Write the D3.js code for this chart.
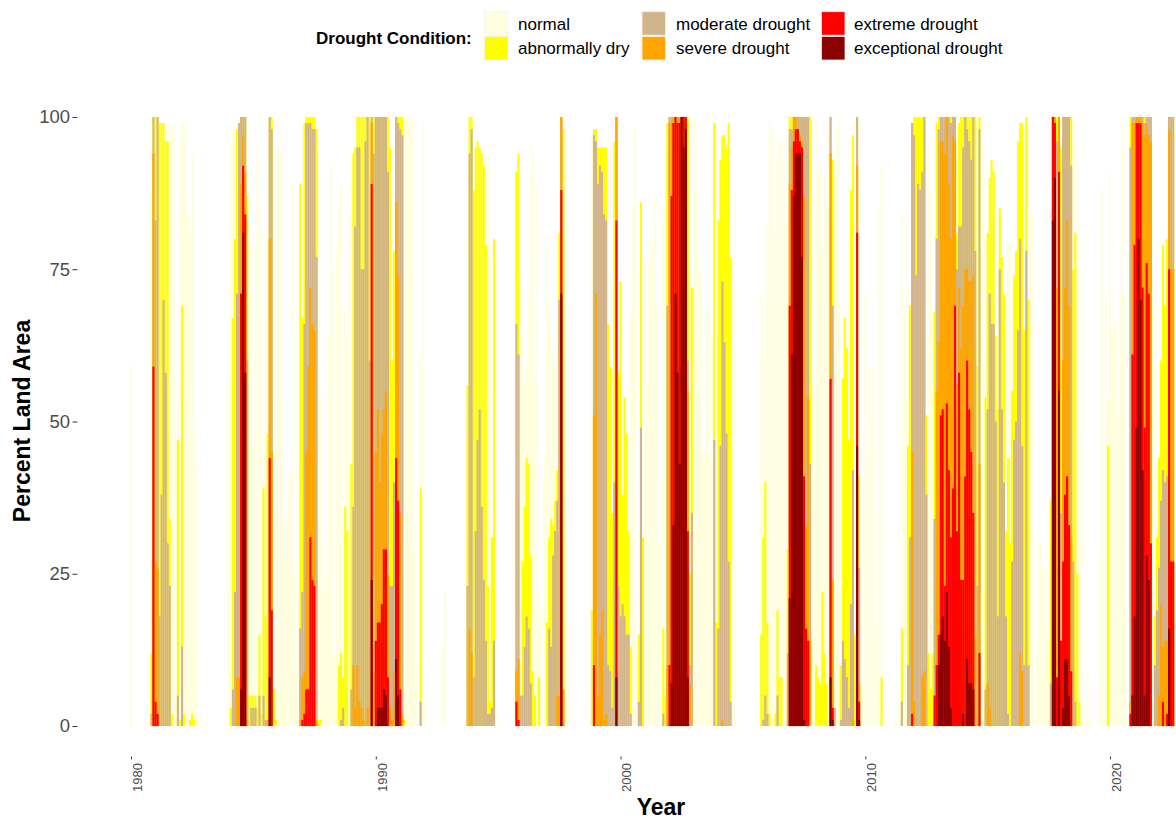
<!DOCTYPE html>
<html>
<head>
<meta charset="utf-8">
<script src="https://cdn.jsdelivr.net/npm/d3@7"></script>
<style>
  body { margin: 0; background: #fff; }
  svg { display: block; font-family: "Liberation Sans", Arial, Helvetica, sans-serif; }
</style>
</head>
<body>
<svg id="chart" width="1176" height="818"></svg>
<script>
// monthly percent of land area, one row per year (Jan..Dec), 1980 to mid 2022
var normal = [
  59,0,0,0,0,0,0,0,0,0,88,0,
  0,0,0,0,0,0,0,99,99,97,5,53,
  96,99,99,86,84,81,94,49,42,1,2,1,
  0,0,0,0,0,0,0,0,0,0,0,0,
  57,96,98,98,0,0,0,0,0,0,60,79,
  46,79,95,85,67,40,82,50,0,0,0,94,
  95,95,54,28,34,40,42,89,25,10,20,0,
  0,0,0,0,0,0,0,0,77,54,30,22,
  25,64,92,75,11,79,85,89,0,68,64,84,
  0,0,0,0,0,0,0,0,0,0,0,0,
  0,0,0,0,0,0,0,0,0,0,0,0,
  0,0,99,100,100,100,100,29,10,0,61,99,
  5,0,0,0,0,0,0,0,0,13,22,0,
  0,0,0,0,0,0,0,0,1,0,0,0,
  0,0,0,0,0,0,0,94,78,0,0,2,
  0,0,0,0,0,0,0,0,38,20,0,73,
  64,56,59,71,91,95,57,89,21,19,0,44,
  79,68,66,62,60,0,0,0,0,31,17,0,
  0,0,0,0,0,0,0,0,0,0,97,0,
  0,0,0,0,0,0,0,0,0,0,0,0,
  0,0,0,0,0,68,85,98,12,0,0,0,
  77,56,76,80,79,87,69,30,40,84,95,0,
  0,0,0,0,0,0,0,0,0,0,75,72,
  100,88,78,74,45,45,68,68,45,64,0,0,
  0,0,0,0,0,0,0,2,88,0,0,0,
  0,0,0,0,0,0,0,0,0,71,69,60,
  82,99,98,98,81,93,96,96,93,82,71,0,
  0,0,0,0,0,0,0,0,0,0,57,56,
  100,91,92,78,91,85,97,0,0,91,98,100,
  0,0,0,0,0,0,0,0,0,0,7,7,
  71,44,59,50,59,17,34,85,92,3,0,0,
  0,0,0,1,0,3,84,68,54,72,0,0,
  0,0,0,0,0,0,0,95,88,68,0,0,
  0,0,0,0,0,0,0,0,0,0,0,0,
  0,0,0,0,0,0,0,0,0,9,95,0,
  0,0,0,0,0,0,0,0,0,0,79,79,
  0,0,0,0,0,0,0,0,0,85,84,0,
  12,31,30,26,26,15,14,0,0,0,0,0,
  0,0,0,0,0,0,0,0,95,75,48,0,
  2,8,1,0,0,0,0,28,88,1,70,54,
  91,65,67,66,51,71,99,71,0,1,0,0,
  0,0,0,0,0,0,0,0,0,73,69,0,
  0,0,0,0,0,0,0,0
];

var abnormallyDry = [
  0,0,0,0,0,0,0,0,0,0,12,100,
  100,100,99,99,99,96,96,34,2,0,0,47,
  1,69,2,0,0,1,2,1,0,0,0,0,
  0,0,0,0,0,0,0,0,0,0,0,0,
  0,3,67,80,98,99,100,100,100,87,5,5,
  5,5,3,15,2,39,18,48,100,100,6,1,
  0,0,0,0,0,0,0,0,0,0,0,89,
  67,99,100,100,100,100,100,98,1,1,0,0,
  0,0,0,0,0,0,10,12,8,36,32,0,
  43,94,95,100,100,100,100,100,100,100,100,100,
  100,100,100,100,100,100,100,95,60,78,100,100,
  100,100,1,0,0,0,0,0,0,0,39,0,
  0,0,0,0,0,0,0,0,0,0,0,0,
  0,0,0,0,0,0,0,0,0,56,100,100,
  88,95,96,95,94,92,79,23,4,31,80,0,
  0,0,0,0,0,0,0,0,0,91,94,5,
  27,36,44,43,28,9,5,0,8,0,0,0,
  17,31,34,33,37,42,81,100,98,0,0,0,
  0,0,0,0,0,0,0,0,0,0,19,98,
  98,95,95,95,95,95,66,59,35,96,100,58,
  73,38,54,48,32,13,0,0,0,15,86,31,
  0,0,0,0,0,0,0,0,0,16,5,99,
  100,100,100,100,100,100,100,100,100,100,25,72,
  0,0,0,0,0,0,0,0,0,0,99,17,
  83,93,97,97,95,99,77,0,0,0,0,0,
  0,0,0,0,0,0,0,0,0,15,31,40,
  17,2,0,0,2,19,8,8,0,0,29,100,
  100,100,100,100,100,100,100,100,100,100,0,0,
  10,8,7,22,12,7,0,100,93,3,0,0,
  10,57,67,62,47,88,97,15,100,41,0,0,
  0,0,0,0,0,0,0,0,8,0,0,0,
  0,0,0,0,0,0,16,0,0,46,69,99,
  100,100,100,100,100,100,51,12,6,12,68,99,
  100,100,100,100,100,100,100,100,100,81,99,100,
  100,100,100,100,100,100,100,59,100,0,0,54,
  81,90,93,91,64,52,85,77,71,32,44,30,
  55,74,78,96,99,99,65,100,70,0,0,0,
  0,0,0,0,0,0,0,37,100,100,100,100,
  95,100,100,100,100,100,75,81,25,4,0,0,
  0,0,0,0,0,0,0,0,0,0,0,46,
  0,0,0,0,0,0,0,0,0,0,100,100,
  100,100,100,100,100,100,100,100,100,0,18,31,
  44,60,79,69,80,100,100,100
];

var moderate = [
  0,0,0,0,0,0,0,0,0,0,2,100,
  83,100,18,38,70,58,30,23,0,0,0,5,
  0,13,0,0,0,0,0,0,0,0,0,0,
  0,0,0,0,0,0,0,0,0,0,0,0,
  0,0,6,22,71,99,100,100,100,60,0,3,
  3,3,0,5,0,5,1,1,100,98,0,0,
  0,0,0,0,0,0,0,0,0,0,0,16,
  22,66,99,99,99,98,98,77,0,0,0,0,
  0,0,0,0,0,0,0,1,3,0,0,0,
  6,36,82,95,95,75,75,96,100,60,100,94,
  100,100,100,100,100,100,91,23,23,40,100,99,
  98,97,0,0,0,0,0,0,0,0,4,0,
  0,0,0,0,0,0,0,0,0,0,0,0,
  0,0,0,0,0,0,0,0,0,23,94,98,
  8,32,47,52,36,24,14,2,2,3,14,0,
  0,0,0,0,0,0,0,0,0,66,61,5,
  5,13,18,16,7,0,0,0,0,0,0,0,
  0,16,13,28,32,37,70,100,6,0,0,0,
  0,0,0,0,0,0,0,0,0,0,0,97,
  96,89,92,91,84,83,10,9,3,40,100,23,
  18,20,18,15,15,2,0,0,0,4,49,0,
  0,0,0,0,0,0,0,0,0,2,0,69,
  100,100,100,100,100,100,100,100,100,60,10,35,
  0,0,0,0,0,0,0,0,0,0,47,0,
  16,46,73,63,48,27,4,0,0,0,0,0,
  0,0,0,0,0,0,0,0,0,0,1,5,
  2,0,0,0,0,5,0,0,0,0,12,98,
  98,100,100,100,100,100,100,100,100,43,0,0,
  0,0,0,0,0,0,0,100,69,3,0,0,
  1,14,11,8,3,20,42,0,100,26,0,0,
  0,0,0,0,0,0,0,0,0,0,0,0,
  0,0,0,0,0,0,4,0,0,10,31,99,
  97,74,89,88,91,100,38,0,0,0,34,80,
  98,100,100,100,100,100,99,100,100,75,82,82,
  95,100,98,96,93,100,78,23,98,0,0,6,
  52,71,66,66,50,18,75,52,40,18,2,0,
  27,47,50,65,80,46,10,78,10,0,0,0,
  0,0,0,0,0,0,0,7,100,100,96,100,
  35,100,100,100,100,92,27,4,0,0,0,0,
  0,0,0,0,0,0,0,0,0,0,0,0,
  0,0,0,0,0,0,0,0,0,0,95,100,
  100,100,100,100,100,99,100,100,100,0,10,19,
  26,37,42,40,41,100,100,100
];

var severe = [
  0,0,0,0,0,0,0,0,0,0,0,94,
  27,26,0,0,0,0,0,0,0,0,0,0,
  0,0,0,0,0,0,0,0,0,0,0,0,
  0,0,0,0,0,0,0,0,0,0,0,0,
  0,0,0,0,8,8,89,97,91,1,0,0,
  0,0,0,0,0,0,0,1,80,45,0,0,
  0,0,0,0,0,0,0,0,0,0,0,1,
  8,9,45,59,72,66,65,1,0,0,0,0,
  0,0,0,0,0,0,0,0,0,0,0,0,
  0,10,3,10,4,3,1,0,3,0,99,9,
  45,52,40,48,52,55,25,3,1,9,86,74,
  35,2,0,0,0,0,0,0,0,0,0,0,
  0,0,0,0,0,0,0,0,0,0,0,0,
  0,0,0,0,0,0,0,0,0,0,16,12,
  0,0,0,0,0,0,0,0,0,0,0,0,
  0,0,0,0,0,0,0,0,0,9,11,0,
  0,0,0,0,0,0,0,0,0,0,0,0,
  0,0,0,0,0,5,5,100,6,0,0,0,
  0,0,0,0,0,0,0,0,0,0,0,51,
  71,5,15,19,1,2,0,0,0,0,100,0,
  0,0,0,0,0,0,0,0,0,0,0,0,
  0,0,0,0,0,0,0,0,0,0,0,10,
  99,99,100,100,100,100,100,100,100,55,7,0,
  0,0,0,0,0,0,0,0,0,0,0,0,
  0,0,1,0,0,0,0,0,0,0,0,0,
  0,0,0,0,0,0,0,0,0,0,0,0,
  0,0,0,0,0,0,0,0,0,0,0,89,
  95,100,100,98,97,96,87,33,54,14,0,0,
  0,0,0,0,0,0,0,94,24,0,0,0,
  0,0,0,0,0,0,1,0,92,7,0,0,
  0,0,0,0,0,0,0,0,0,0,0,0,
  0,0,0,0,0,0,0,0,0,0,0,45,
  4,0,0,0,8,9,0,0,0,0,5,55,
  63,96,96,94,100,89,80,97,96,56,72,62,
  69,75,75,73,73,74,15,0,43,0,0,0,
  7,3,0,0,0,0,0,0,0,0,0,0,
  0,0,0,0,12,9,0,0,0,0,0,0,
  0,0,0,0,0,0,0,0,100,100,72,100,
  14,60,72,83,69,31,0,0,0,0,0,0,
  0,0,0,0,0,0,0,0,0,0,0,0,
  0,0,0,0,0,0,0,0,0,0,4,99,
  99,100,100,100,99,97,99,97,96,0,0,0,
  5,20,13,14,14,98,75,75
];

var extreme = [
  0,0,0,0,0,0,0,0,0,0,0,59,
  4,2,0,0,0,0,0,0,0,0,0,0,
  0,0,0,0,0,0,0,0,0,0,0,0,
  0,0,0,0,0,0,0,0,0,0,0,0,
  0,0,0,0,0,0,71,92,84,0,0,0,
  0,0,0,0,0,0,0,0,44,19,0,0,
  0,0,0,0,0,0,0,0,0,0,0,0,
  1,2,6,6,31,24,23,0,0,0,0,0,
  0,0,0,0,0,0,0,0,0,0,0,0,
  0,0,0,0,0,0,0,0,0,0,89,0,
  14,17,17,20,29,29,8,0,0,0,44,37,
  6,0,0,0,0,0,0,0,0,0,0,0,
  0,0,0,0,0,0,0,0,0,0,0,0,
  0,0,0,0,0,0,0,0,0,0,0,0,
  0,0,0,0,0,0,0,0,0,0,0,0,
  0,0,0,0,0,0,0,0,0,4,1,0,
  0,0,0,0,0,0,0,0,0,0,0,0,
  0,0,0,0,0,0,0,88,0,0,0,0,
  0,0,0,0,0,0,0,0,0,0,0,10,
  0,0,0,0,0,0,0,0,0,0,83,0,
  0,0,0,0,0,0,0,0,0,0,0,0,
  0,0,0,0,0,0,0,0,0,0,0,0,
  10,87,99,100,99,99,100,100,100,32,0,0,
  0,0,0,0,0,0,0,0,0,0,0,0,
  0,0,0,0,0,0,0,0,0,0,0,0,
  0,0,0,0,0,0,0,0,0,0,0,0,
  0,0,0,0,0,0,0,0,0,0,0,69,
  88,96,98,98,96,95,41,16,14,0,0,0,
  0,0,0,0,0,0,0,57,3,0,0,0,
  0,0,0,0,0,0,0,0,81,4,0,0,
  0,0,0,0,0,0,0,0,0,0,0,0,
  0,0,0,0,0,0,0,0,0,0,0,2,
  0,0,0,0,0,0,0,0,0,0,5,10,
  15,51,52,23,53,42,31,39,69,32,58,24,
  24,41,60,52,45,35,0,0,12,0,0,0,
  0,0,0,0,0,0,0,0,0,0,0,0,
  0,0,0,0,0,0,0,0,0,0,0,0,
  0,0,0,0,0,0,0,0,100,99,8,91,
  14,27,38,41,33,9,0,0,0,0,0,0,
  0,0,0,0,0,0,0,0,0,0,0,0,
  0,0,0,0,0,0,0,0,0,0,2,61,
  79,99,99,99,72,49,76,71,30,0,0,0,
  0,0,4,0,2,75,27,27
];

var exceptional = [
  0,0,0,0,0,0,0,0,0,0,0,0,
  0,0,0,0,0,0,0,0,0,0,0,0,
  0,0,0,0,0,0,0,0,0,0,0,0,
  0,0,0,0,0,0,0,0,0,0,0,0,
  0,0,0,0,0,0,6,81,58,0,0,0,
  0,0,0,0,0,0,0,0,8,0,0,0,
  0,0,0,0,0,0,0,0,0,0,0,0,
  0,0,0,0,0,0,0,0,0,0,0,0,
  0,0,0,0,0,0,0,0,0,0,0,0,
  0,0,0,0,0,0,0,0,0,0,24,0,
  0,3,3,3,6,5,0,0,0,0,11,5,
  0,0,0,0,0,0,0,0,0,0,0,0,
  0,0,0,0,0,0,0,0,0,0,0,0,
  0,0,0,0,0,0,0,0,0,0,0,0,
  0,0,0,0,0,0,0,0,0,0,0,0,
  0,0,0,0,0,0,0,0,0,0,0,0,
  0,0,0,0,0,0,0,0,0,0,0,0,
  0,0,0,0,0,0,0,71,0,0,0,0,
  0,0,0,0,0,0,0,0,0,0,0,0,
  0,0,0,0,0,0,0,0,0,0,8,0,
  0,0,0,0,0,0,0,0,0,0,0,0,
  0,0,0,0,0,0,0,0,0,0,0,0,
  0,7,33,71,58,43,100,95,98,8,0,0,
  0,0,0,0,0,0,0,0,0,0,0,0,
  0,0,0,0,0,0,0,0,0,0,0,0,
  0,0,0,0,0,0,0,0,0,0,0,0,
  0,0,0,0,0,0,0,0,0,0,0,21,
  61,87,94,94,94,77,1,0,0,0,0,0,
  0,0,0,0,0,0,0,8,1,0,0,0,
  0,0,0,0,0,0,0,0,46,1,0,0,
  0,0,0,0,0,0,0,0,0,0,0,0,
  0,0,0,0,0,0,0,0,0,0,0,0,
  0,0,0,0,0,0,0,0,0,0,0,0,
  10,15,18,14,22,13,3,0,0,0,0,0,
  2,0,11,7,7,6,0,0,0,0,0,0,
  0,0,0,0,0,0,0,0,0,0,0,0,
  0,0,0,0,0,0,0,0,0,0,0,0,
  0,0,0,0,0,0,0,0,83,90,0,55,
  0,3,11,11,5,0,0,0,0,0,0,0,
  0,0,0,0,0,0,0,0,0,0,0,0,
  0,0,0,0,0,0,0,0,0,0,0,5,
  18,49,80,70,42,5,28,24,0,0,0,0,
  0,0,0,0,0,16,0,0
];

var categories = ["normal", "abnormally dry", "moderate drought",
  "severe drought", "extreme drought", "exceptional drought"];
var colors = ["#FFFFE0", "#FFFF00", "#D2B48C", "#FFA500", "#FF0000", "#8B0000"];
var yTicks = [0, 25, 50, 75, 100];
var yearTicks = [1980, 1990, 2000, 2010, 2020];
var startYear = 1980;

var seriesValues = [normal, abnormallyDry, moderate, severe, extreme, exceptional];

var svg = d3.select("#chart");

// panel runs past the right edge of the picture, like the cropped original
var x = d3.scaleUtc()
  .domain([new Date(Date.UTC(1980, 0, 1)), new Date(Date.UTC(2020, 0, 1))])
  .range([131, 1110]);

var y = d3.scaleLinear()
  .domain([-5, 105])
  .range([756.5, 86.5]);

var barW = 2.1;

function monthDate(i) {
  return new Date(Date.UTC(startYear + Math.floor(i / 12), i % 12, 1));
}

// draw each condition on top of the previous one
var bars = svg.append("g");
seriesValues.forEach(function (vals, k) {
  var data = vals.map(function (v, i) { return { date: monthDate(i), value: v }; })
    .filter(function (d) { return d.value > 0; });
  bars.append("g")
    .attr("fill", colors[k])
    .selectAll("rect")
    .data(data)
    .enter()
    .append("rect")
    .attr("x", d => x(d.date) - barW / 2)
    .attr("width", barW)
    .attr("y", d => y(d.value))
    .attr("height", d => y(0) - y(d.value));
});

// y axis
var yAxis = svg.append("g")
  .attr("transform", "translate(77.3,0)")
  .call(d3.axisLeft(y).tickValues(yTicks).tickSize(4.8).tickPadding(2.5));
yAxis.select(".domain").remove();
yAxis.selectAll("line").attr("stroke", "#333333");
yAxis.selectAll("text")
  .attr("fill", "#4D4D4D")
  .style("font-size", "18.5px")
  .style("font-family", "'Liberation Sans', Arial, sans-serif");

// x axis with vertical labels
var xAxis = svg.append("g")
  .attr("transform", "translate(0,756.5)")
  .call(d3.axisBottom(x)
    .tickValues(yearTicks.map(yr => new Date(Date.UTC(yr, 0, 1))))
    .tickFormat(d3.utcFormat("%Y"))
    .tickSize(2.8));
xAxis.select(".domain").remove();
xAxis.selectAll("line").attr("stroke", "#333333");
xAxis.selectAll("text")
  .attr("transform", "rotate(-90)")
  .attr("text-anchor", "end")
  .attr("x", -6.5)
  .attr("y", 10.3)
  .attr("dy", 0)
  .attr("fill", "#4D4D4D")
  .style("font-size", "13px")
  .style("font-family", "'Liberation Sans', Arial, sans-serif");

// axis titles
svg.append("text")
  .attr("x", 661)
  .attr("y", 814.5)
  .attr("text-anchor", "middle")
  .style("font-size", "23px")
  .style("font-weight", "bold")
  .text("Year");

svg.append("text")
  .attr("transform", "translate(29.5,421) rotate(-90)")
  .attr("text-anchor", "middle")
  .style("font-size", "23px")
  .style("font-weight", "bold")
  .text("Percent Land Area");

// legend
var legend = svg.append("g");
legend.append("text")
  .attr("x", 316)
  .attr("y", 44)
  .style("font-size", "17px")
  .style("font-weight", "bold")
  .text("Drought Condition:");

var keyX = [484.5, 642, 821.5];
var textX = [518, 676, 854];
var keyY = [11.7, 36.5];
categories.forEach(function (c, i) {
  var col = Math.floor(i / 2), row = i % 2;
  legend.append("rect")
    .attr("x", keyX[col])
    .attr("y", keyY[row])
    .attr("width", 23.5)
    .attr("height", 23.5)
    .attr("fill", colors[i])
    .attr("stroke", "#F2F2F2")
    .attr("stroke-width", 0.8);
  legend.append("text")
    .attr("x", textX[col])
    .attr("y", keyY[row] + 17.8)
    .style("font-size", "17px")
    .text(c);
});
</script>
</body>
</html>
